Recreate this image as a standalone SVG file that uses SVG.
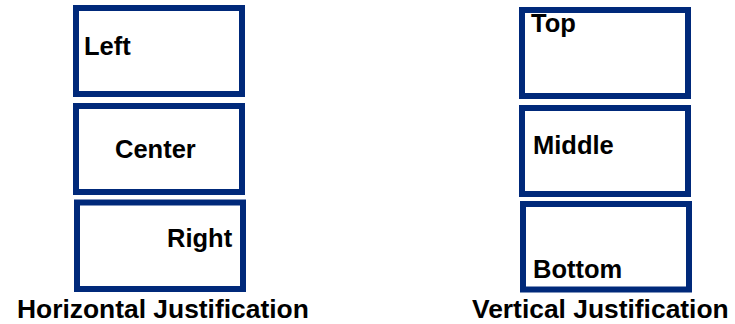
<svg xmlns="http://www.w3.org/2000/svg" width="735" height="324" viewBox="0 0 735 324">
<style>
.box{fill:#fff;stroke:#00297A;stroke-width:6}
.lbl{font-family:"Liberation Sans",Arial,sans-serif;font-weight:bold;font-size:25.5px;fill:#000}
.hd{font-family:"Liberation Sans",Arial,sans-serif;font-weight:bold;font-size:26.4px;fill:#000}
</style>
<rect width="735" height="324" fill="#fff"/>
<g id="left-box"><rect class="box" x="76" y="8" width="166" height="86"/><text class="lbl" x="84" y="55">Left</text></g>
<g id="center-box"><rect class="box" x="76" y="106" width="166" height="86"/><text class="lbl" x="115" y="158">Center</text></g>
<g id="right-box"><rect class="box" x="77" y="202.5" width="166" height="86.5"/><text class="lbl" x="167" y="247">Right</text></g>
<g id="top-box"><rect class="box" x="522" y="10" width="166" height="86"/><text class="lbl" x="531" y="32">Top</text></g>
<g id="middle-box"><rect class="box" x="522" y="108" width="166" height="86"/><text class="lbl" x="533" y="154">Middle</text></g>
<g id="bottom-box"><rect class="box" x="523" y="204" width="166" height="85.5"/><text class="lbl" x="533" y="278">Bottom</text></g>
<g id="headings"><text class="hd" x="17" y="318">Horizontal Justification</text><text class="hd" x="472" y="318">Vertical Justification</text></g>
<g id="connectors"/>
</svg>
